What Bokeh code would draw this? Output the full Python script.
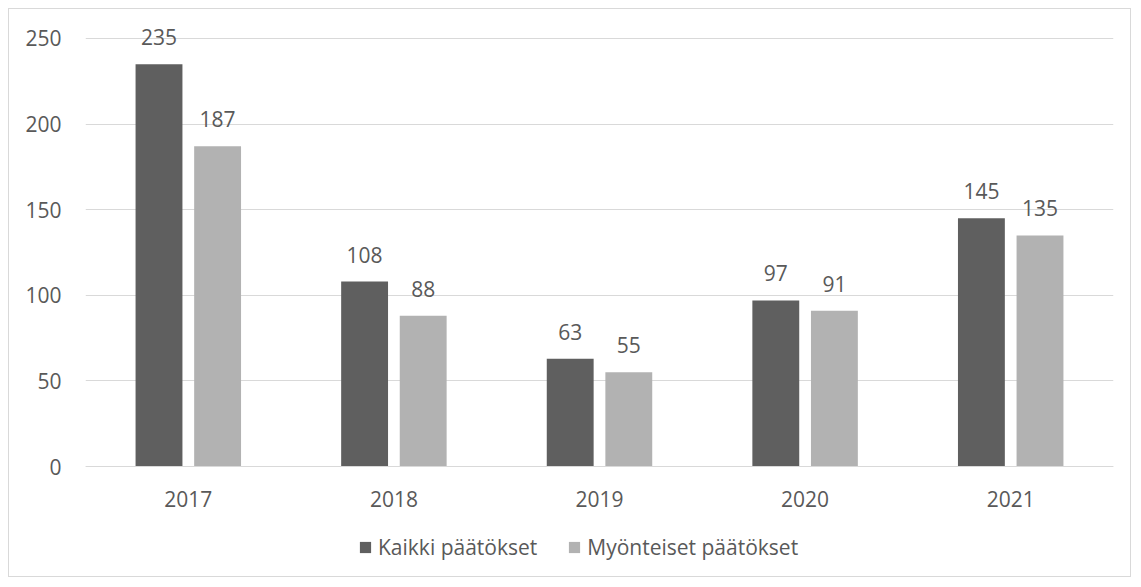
from bokeh.plotting import figure
from bokeh.models import ColumnDataSource, FixedTicker, Legend, LegendItem, LabelSet
from bokeh.core.properties import value
from bokeh.transform import dodge
from bokeh.embed import file_html
from bokeh.resources import INLINE

years = ["2017", "2018", "2019", "2020", "2021"]
kaikki = [235, 108, 63, 97, 145]
myonteiset = [187, 88, 55, 91, 135]
y_ticks = [0, 50, 100, 150, 200, 250]

series_names = ["Kaikki päätökset", "Myönteiset päätökset"]
colors = ["#5f5f5f", "#b2b2b2"]
FONT = "Open Sans"
TXT = "#595959"
FS = "21px"

src = ColumnDataSource(dict(
    years=years, kaikki=kaikki, myonteiset=myonteiset,
    kaikki_lbl=[str(v) for v in kaikki], myon_lbl=[str(v) for v in myonteiset],
))

# frame spans page y 28..578; value 0 sits at page y 466, value 250 at page y 38
p = figure(x_range=years, y_range=(-65.42, 255.84), width=1123, height=569,
           output_backend="svg", toolbar_location=None,
           min_border_left=76, min_border_right=19, min_border_top=19, min_border_bottom=0)
p.styles = {"border": "1px solid #d9d9d9", "margin": "8px"}
p.outline_line_color = None
p.x_range.range_padding = 0

r1 = p.vbar(x=dodge("years", -0.1425, range=p.x_range), top="kaikki", width=0.228,
            source=src, fill_color=colors[0], line_color=None)
r2 = p.vbar(x=dodge("years", 0.1425, range=p.x_range), top="myonteiset", width=0.228,
            source=src, fill_color=colors[1], line_color=None)

for col, lbl, off in [("kaikki", "kaikki_lbl", -0.1425), ("myonteiset", "myon_lbl", 0.1425)]:
    ls = LabelSet(x=dodge("years", off, range=p.x_range), y=col, text=lbl, source=src,
                  text_align="center", text_baseline="alphabetic", y_offset=19,
                  text_font=value(FONT), text_font_size=value(FS), text_color=TXT)
    p.add_layout(ls)

p.yaxis.ticker = FixedTicker(ticks=y_ticks)
p.yaxis.axis_line_color = None
p.yaxis.major_tick_line_color = None
p.yaxis.minor_tick_line_color = None
p.yaxis.major_label_standoff = 18
p.xaxis.fixed_location = 0
p.xaxis.axis_line_color = "#d9d9d9"
p.xaxis.major_tick_line_color = None
p.xaxis.minor_tick_line_color = None
p.xaxis.major_label_standoff = 18
for ax in (p.xaxis, p.yaxis):
    ax.major_label_text_font = FONT
    ax.major_label_text_font_size = FS
    ax.major_label_text_color = TXT

p.xgrid.grid_line_color = None
p.ygrid.ticker = FixedTicker(ticks=y_ticks)
p.ygrid.grid_line_color = "#d9d9d9"

legend = Legend(items=[LegendItem(label=series_names[0], renderers=[r1]),
                       LegendItem(label=series_names[1], renderers=[r2])],
                orientation="horizontal", location=(273, 17),
                padding=0, margin=0, spacing=30, label_standoff=6,
                glyph_width=14, glyph_height=14,
                label_text_font=FONT, label_text_font_size=FS, label_text_color=TXT,
                background_fill_alpha=0, border_line_color=None)
p.add_layout(legend, "center")

open("out.html", "w").write(file_html(p, INLINE))
